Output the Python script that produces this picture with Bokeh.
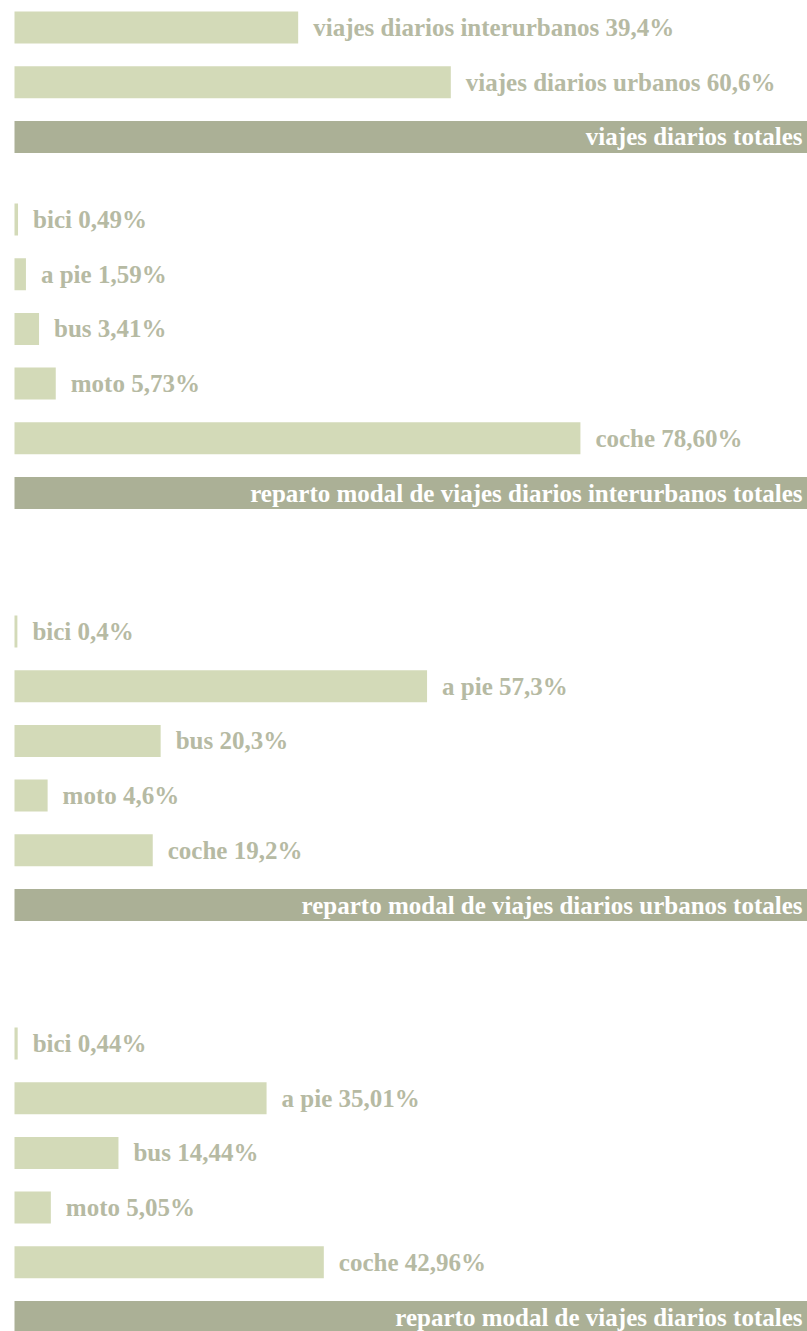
from bokeh.plotting import figure
from bokeh.models import ColumnDataSource, Range1d
from bokeh.core.properties import value
from bokeh.embed import file_html
from bokeh.resources import INLINE

# ---- data ----
total_cats = ["viajes diarios interurbanos", "viajes diarios urbanos"]
total_vals = [39.4, 60.6]
total_labels = ["viajes diarios interurbanos 39,4%", "viajes diarios urbanos 60,6%"]

modes = ["bici", "a pie", "bus", "moto", "coche"]
inter_vals = [0.49, 1.59, 3.41, 5.73, 78.60]
inter_labels = ["bici 0,49%", "a pie  1,59%", "bus  3,41%", "moto  5,73%", "coche 78,60%"]
urban_vals = [0.4, 57.3, 20.3, 4.6, 19.2]
urban_labels = ["bici 0,4%", "a pie 57,3%", "bus 20,3%", "moto  4,6%", "coche 19,2%"]
all_vals = [0.44, 35.01, 14.44, 5.05, 42.96]
all_labels = ["bici 0,44%", "a pie 35,01%", "bus 14,44%", "moto  5,05%", "coche 42,96%"]

headers = ["viajes diarios totales",
           "reparto modal de viajes diarios interurbanos totales",
           "reparto modal de viajes diarios urbanos totales",
           "reparto modal de viajes diarios totales"]

# ---- layout ----
W, H = 807, 1331
LEFT = 14
PX = 7.2          # pixels per percent
ROW = 54.7
BAR_H = 32
section_tops = [11, 203, 615, 1027]
LIGHT = "#d3dab8"
DARK = "#abb096"
TEXT = "#b6baa3"
FONT = value("Liberation Serif")
FSIZE = "25px"

x0 = -LEFT / PX
x1 = (W - LEFT) / PX

p = figure(width=W, height=H, output_backend="svg", toolbar_location=None,
           x_range=Range1d(x0, x1), y_range=Range1d(H, 0), min_border=0)
p.axis.visible = False
p.grid.visible = False
p.outline_line_color = None
p.background_fill_color = "white"
p.border_fill_color = "white"

sections = [(total_vals, total_labels), (inter_vals, inter_labels),
            (urban_vals, urban_labels), (all_vals, all_labels)]

by, bv, lx, lt = [], [], [], []
hy, ht = [], []
for (vals, labels), top, head in zip(sections, section_tops, headers):
    for i, (v, lab) in enumerate(zip(vals, labels)):
        yc = top + i * ROW + BAR_H / 2
        by.append(yc)
        bv.append(v)
        lx.append(v + 15 / PX)
        lt.append(lab)
    hy.append(top + len(vals) * ROW + BAR_H / 2)
    ht.append(head)

bars = ColumnDataSource(dict(y=by, v=bv, lx=lx, text=lt))
p.hbar(y="y", left=0, right="v", height=BAR_H, source=bars,
       fill_color=LIGHT, line_color=None)
p.text(x="lx", y="y", text="text", source=bars, text_font=FONT,
       text_font_style="bold", text_font_size=FSIZE, text_color=TEXT,
       text_baseline="middle", text_align="left")

hsrc = ColumnDataSource(dict(y=hy, text=ht, xr=[x1 - 5 / PX] * len(hy)))
p.hbar(y="y", left=0, right=x1, height=BAR_H, source=hsrc,
       fill_color=DARK, line_color=None)
p.text(x="xr", y="y", text="text", source=hsrc, text_font=FONT,
       text_font_style="bold", text_font_size=FSIZE, text_color="white",
       text_baseline="middle", text_align="right")

open("out.html", "w").write(file_html(p, INLINE))
